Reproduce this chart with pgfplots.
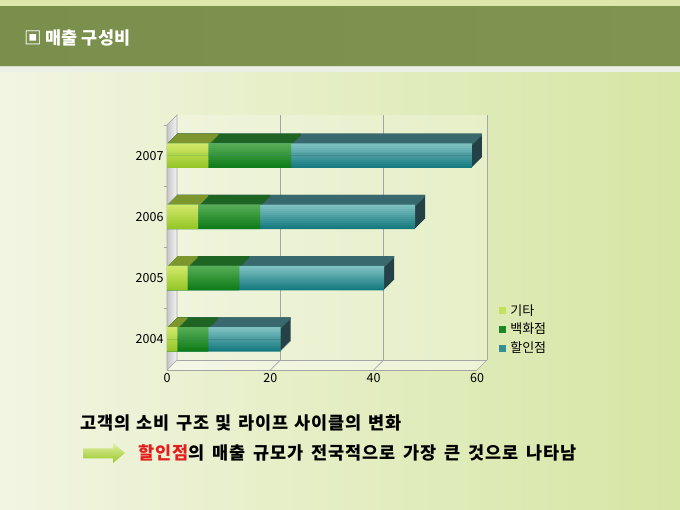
\documentclass[border=0pt]{standalone}
\usepackage{fontspec}
\setmainfont{Noto Sans CJK KR}
\newfontfamily\krwide[LetterSpace=5]{Noto Sans CJK KR}
\usepackage{pgfplots}
\pgfplotsset{compat=1.18}
\usepackage{pgfplotstable}

\definecolor{bgL}{RGB}{242,245,226}
\definecolor{bgR}{RGB}{214,230,164}
\definecolor{band}{RGB}{128,148,82}
\definecolor{bandL}{RGB}{122,143,76}
\definecolor{stripTop}{RGB}{221,231,172}
\definecolor{etcA}{RGB}{208,232,105}
\definecolor{etcB}{RGB}{150,198,40}
\definecolor{etcT}{RGB}{125,150,45}
\definecolor{deptA}{RGB}{85,172,85}
\definecolor{deptB}{RGB}{15,125,25}
\definecolor{deptT}{RGB}{30,100,35}
\definecolor{discA}{RGB}{125,192,192}
\definecolor{discB}{RGB}{22,122,128}
\definecolor{discT}{RGB}{55,105,110}
\definecolor{discR}{RGB}{35,65,70}
\definecolor{gridc}{RGB}{165,165,165}
\definecolor{redt}{RGB}{228,30,30}

% year index, 기타, 백화점, 할인점, cumulative sums
\pgfplotstableread{
y etc dept disc c1 c2 c3
0 2 6 14 2 8 22
1 4 10 28 4 14 42
2 6 12 30 6 18 48
3 8 16 35 8 24 59
}\datatable

\begin{document}
\begin{tikzpicture}
\useasboundingbox (0,0) rectangle (680pt,510pt);
% background
\shade[left color=bgL, right color=bgR] (0,0) rectangle (680pt,510pt);
% header
\fill[stripTop] (0,503pt) rectangle (680pt,510pt);
\shade[left color=bandL, right color=band] (0,444pt) rectangle (680pt,503pt);
\fill[white!85!band] (0,438pt) rectangle (680pt,444pt);
\draw[white!70!band, line width=0.8pt] (0,444pt) -- (680pt,444pt);
\node[anchor=west, text=white, font=\fontsize{17.5}{20}\selectfont\bfseries, inner sep=0pt] at (24pt,472pt) {▣ 매출 구성비};

\begin{axis}[
  at={(167pt,140pt)}, anchor=south west,
  scale only axis, width=310pt, height=245pt,
  xmin=0, xmax=60, ymin=-0.5, ymax=3.5,
  clip=false,
  axis line style={draw=none},
  xtick={0,20,40,60}, ytick={0,1,2,3},
  yticklabels={2004,2005,2006,2007},
  major tick length=0pt,
  tick label style={font=\fontsize{12.5}{14}\selectfont},
  /pgf/number format/assume math mode=true,
  mybar/.style={xbar, bar width=24pt, bar shift=0pt, draw=none, forget plot},
  topbar/.style={xbar, bar width=2pt, bar shift=11pt, draw=none, forget plot},
  strip/.style={xbar, bar width=2.4pt, bar shift={(-11+0.22*#1)*1pt}, draw=none, forget plot},
  legend style={at={(1.06,0.285)}, anchor=north west, draw=none, fill=none,
    font=\fontsize{13}{15}\selectfont, row sep=2.5pt,
    /tikz/every odd column/.append style={column sep=2.5pt}},
  legend cell align=left,
  legend image code/.code={\fill[#1] (0pt,-3.5pt) rectangle (7pt,3.5pt);},
]
% floor
\fill[white, opacity=0.45] (axis cs:0,-0.5) -- (axis cs:60,-0.5) -- ([shift={(10pt,10pt)}]axis cs:60,-0.5) -- ([shift={(10pt,10pt)}]axis cs:0,-0.5) -- cycle;
% back wall
\fill[white, opacity=0.25] ([shift={(10pt,10pt)}]axis cs:0,-0.5) rectangle ([shift={(10pt,10pt)}]axis cs:60,3.5);
% left wall
\shade[left color=gray!45, right color=gray!8] (axis cs:0,-0.5) -- (axis cs:0,3.5) -- ([shift={(10pt,10pt)}]axis cs:0,3.5) -- ([shift={(10pt,10pt)}]axis cs:0,-0.5) -- cycle;
\draw[gridc, line width=0.6pt] (axis cs:0,-0.5) -- (axis cs:0,3.5) -- ([shift={(10pt,10pt)}]axis cs:0,3.5) -- ([shift={(10pt,10pt)}]axis cs:0,-0.5);
% floor lines
\draw[gridc, line width=0.6pt] (axis cs:0,-0.5) -- (axis cs:60,-0.5);
\draw[gridc, line width=0.6pt] ([shift={(10pt,10pt)}]axis cs:0,-0.5) -- ([shift={(10pt,10pt)}]axis cs:60,-0.5);
\pgfplotsinvokeforeach{0,20,40,60}{
  \draw[gridc, line width=0.6pt] (axis cs:#1,-0.5) -- ([shift={(10pt,10pt)}]axis cs:#1,-0.5);
}
\pgfplotsinvokeforeach{20,40,60}{
  \draw[gridc, line width=0.6pt] ([shift={(10pt,10pt)}]axis cs:#1,-0.5) -- ([shift={(10pt,10pt)}]axis cs:#1,3.5);
}
\pgfplotsinvokeforeach{0.5,1.5,2.5,3.5}{
  \draw[gridc, line width=0.6pt] (axis cs:0,#1) -- ([xshift=-3pt]axis cs:0,#1);
}

% 3D depth: right/top faces
\pgfplotsinvokeforeach{1,...,10}{
  \addplot[mybar, fill=discR, transform canvas={xshift=#1pt,yshift=#1pt}] table[x=c3,y=y]{\datatable};
}
\pgfplotsinvokeforeach{1,...,10}{
  \addplot[topbar, fill=discT, transform canvas={xshift=#1pt,yshift=#1pt}] table[x=c3,y=y]{\datatable};
}
\pgfplotsinvokeforeach{1,...,10}{
  \addplot[topbar, fill=deptT, transform canvas={xshift=#1pt,yshift=#1pt}] table[x=c2,y=y]{\datatable};
}
\pgfplotsinvokeforeach{1,...,10}{
  \addplot[topbar, fill=etcT, transform canvas={xshift=#1pt,yshift=#1pt}] table[x=c1,y=y]{\datatable};
}
% front faces (vertical gradient drawn as strips)
\pgfplotsinvokeforeach{0,9,18,27,36,45,55,64,73,82,91,100}{
  \addplot[strip=#1, fill=discA!#1!discB] table[x=c3,y=y]{\datatable};
}
\pgfplotsinvokeforeach{0,9,18,27,36,45,55,64,73,82,91,100}{
  \addplot[strip=#1, fill=deptA!#1!deptB] table[x=c2,y=y]{\datatable};
}
\pgfplotsinvokeforeach{0,9,18,27,36,45,55,64,73,82,91,100}{
  \addplot[strip=#1, fill=etcA!#1!etcB] table[x=c1,y=y]{\datatable};
}

\addlegendimage{fill=etcA!80!etcB, draw=none}
\addlegendentry{기타}
\addlegendimage{fill=deptB!80!deptA, draw=none}
\addlegendentry{백화점}
\addlegendimage{fill=discB!70!discA, draw=none}
\addlegendentry{할인점}
\end{axis}

% bottom text
\node[anchor=base west, inner sep=0pt, font=\fontsize{17.5}{20}\selectfont\krwide\bfseries] at (80pt,80pt) {\hbox to 321pt{고객의 소비 구조 및 라이프 사이클의 변화}};
\shade[top color=etcA!60!white, bottom color=etcB] (83pt,61.5pt) -- (113pt,61.5pt) -- (113pt,67pt) -- (125pt,57pt) -- (113pt,47pt) -- (113pt,51.5pt) -- (83pt,51.5pt) -- cycle;
\node[anchor=base west, inner sep=0pt, font=\fontsize{17.5}{20}\selectfont\krwide\bfseries] at (138pt,50pt) {\hbox to 438pt{\textcolor{redt}{할인점}의 매출 규모가 전국적으로 가장 큰 것으로 나타남}};
\end{tikzpicture}
\end{document}
